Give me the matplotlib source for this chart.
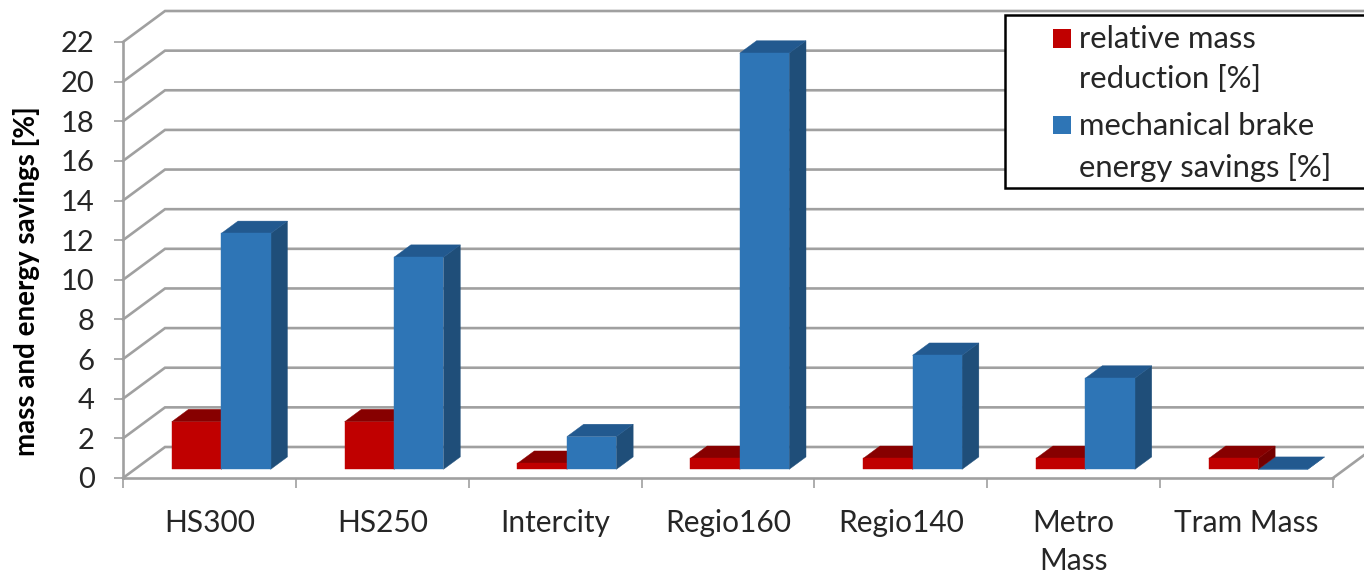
import matplotlib.pyplot as plt
from matplotlib.patches import Rectangle
from matplotlib.transforms import Affine2D

plt.rcParams["font.family"] = ["Lato", "DejaVu Sans"]

categories = ["HS300", "HS250", "Intercity", "Regio160", "Regio140", "Metro\nMass", "Tram Mass"]
mass_reduction = [2.4, 2.4, 0.3, 0.55, 0.55, 0.55, 0.55]
brake_savings = [11.9, 10.7, 1.65, 21.0, 5.75, 4.6, 0.0]
y_ticks = list(range(0, 24, 2))

W, H = 1364, 573
GRID = "#a0a0a0"
TEXT = "#262626"

# oblique projection of the chart box, in category / percent units
DEPTH_X = 0.243
DEPTH_Y = 1.564
BAR_W = 0.286
BAR_NEAR = 0.28
BAR_FAR = 0.68

RED = ("#c00000", "#870000", "#740000")
BLUE = ("#2e75b6", "#22598f", "#1f4e79")


def project(x, v, d):
    return x + d * DEPTH_X, v + d * DEPTH_Y


def draw_bar(ax, x0, value, colors, z):
    front, top, side = colors
    x1 = x0 + BAR_W
    quad = lambda pts: [project(*p) for p in pts]
    f = quad([(x0, 0, BAR_NEAR), (x1, 0, BAR_NEAR), (x1, value, BAR_NEAR), (x0, value, BAR_NEAR)])
    t = quad([(x0, value, BAR_NEAR), (x1, value, BAR_NEAR), (x1, value, BAR_FAR), (x0, value, BAR_FAR)])
    s = quad([(x1, 0, BAR_NEAR), (x1, 0, BAR_FAR), (x1, value, BAR_FAR), (x1, value, BAR_NEAR)])
    for pts, c in ((s, side), (t, top), (f, front)):
        xs, ys = zip(*pts)
        ax.fill(xs, ys, color=c, lw=0.3, clip_on=False, zorder=z)


fig = plt.figure(figsize=(W / 100, H / 100), dpi=100)
ax = fig.add_axes([123 / W, 1 - 478 / H, (1333 - 123) / W, (478 - 42) / H])
ax.set_xlim(0, 7)
ax.set_ylim(0, 22)
ax.patch.set_visible(False)

# side wall and back wall grid
n = len(categories)
for v in y_ticks:
    xs, ys = zip(project(0, v, 0), project(0, v, 1), project(n, v, 1))
    ax.plot(xs, ys, color=GRID, lw=1.9, clip_on=False, zorder=1, solid_joinstyle="miter")
xs, ys = zip(project(n, 0, 0), project(n, 0, 1))
ax.plot(xs, ys, color=GRID, lw=1.9, clip_on=False, zorder=1)

for i in range(n):
    left = i + 0.5 - BAR_W
    pair = [(mass_reduction[i], left, RED), (brake_savings[i], left + BAR_W, BLUE)]
    # the shorter bar goes first so the taller one's side stays on top
    for z, (value, x0, colors) in enumerate(sorted(pair, key=lambda p: p[0])):
        draw_bar(ax, x0, value, colors, 3 + i + z * 0.1)

for name in ("top", "right"):
    ax.spines[name].set_visible(False)
for name in ("left", "bottom"):
    ax.spines[name].set_color(GRID)
    ax.spines[name].set_linewidth(1.9)
    ax.spines[name].set_zorder(2)

ax.set_yticks(y_ticks)
ax.tick_params(axis="y", length=6.5, width=1.2, color=GRID, pad=14, labelsize=21, labelcolor=TEXT)
ax.set_xticks(range(n + 1))
ax.set_xticklabels([])
ax.tick_params(axis="x", which="major", length=7, width=1.2, color=GRID)
ax.set_xticks([i + 0.5 for i in range(n)], minor=True)
ax.set_xticklabels(categories, minor=True, fontsize=21.5, color=TEXT, linespacing=1.46)
ax.tick_params(axis="x", which="minor", length=0, pad=22)

px = Affine2D().scale(1 / W, -1 / H).translate(0, 1) + fig.transFigure

fig.text(27, 281, "mass and energy savings [%]", transform=px, rotation=90, fontsize=20,
         fontweight="bold", color="black", ha="center", va="center")

# legend box runs past the right edge
fig.add_artist(Rectangle((1005, 15), 400, 173, transform=px, fc="white", ec="black", lw=1.8, zorder=10))
fig.add_artist(Rectangle((1053, 29), 18, 19, transform=px, fc=RED[0], ec="none", zorder=11))
fig.add_artist(Rectangle((1053, 116), 18, 18, transform=px, fc=BLUE[0], ec="none", zorder=11))
legend_lines = [(39, "relative mass"), (79, "reduction [%]"), (126, "mechanical brake"), (167, "energy savings [%]")]
for y, line in legend_lines:
    fig.text(1079, y, line, transform=px, fontsize=22.3, color=TEXT, ha="left", va="center", zorder=11)

fig.savefig("out.png", dpi=100)
